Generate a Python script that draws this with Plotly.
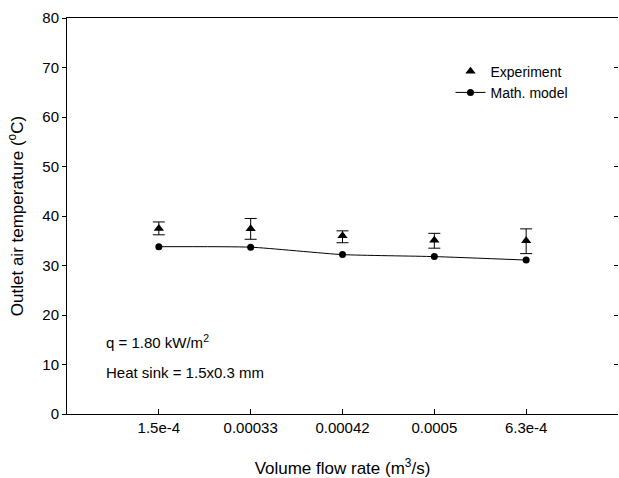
import plotly.graph_objects as go

categories = ["1.5e-4", "0.00033", "0.00042", "0.0005", "6.3e-4"]
exp_values = [37.5, 37.4, 36.0, 35.1, 35.0]
exp_err_plus = [1.3, 2.1, 1.0, 1.4, 2.4]
exp_err_minus = [1.3, 2.1, 1.4, 1.6, 2.6]
model_values = [33.8, 33.7, 32.2, 31.8, 31.1]
y_ticks = [0, 10, 20, 30, 40, 50, 60, 70, 80]

FONT = "Arial, Liberation Sans, sans-serif"

fig = go.Figure()
fig.add_trace(go.Scatter(
    x=categories, y=exp_values, mode="markers", name="Experiment",
    marker=dict(symbol="triangle-up", size=9, color="black"),
    error_y=dict(type="data", symmetric=False, array=exp_err_plus,
                 arrayminus=exp_err_minus, color="black", thickness=1, width=6),
))
fig.add_trace(go.Scatter(
    x=categories, y=model_values, mode="lines+markers", name="Math. model",
    line=dict(color="black", width=1, shape="spline", smoothing=0.5),
    marker=dict(symbol="circle", size=7, color="black"),
))
# invisible trace for right-side inner ticks
fig.add_trace(go.Scatter(x=categories, y=model_values, yaxis="y2",
                         mode="markers", marker=dict(opacity=0),
                         showlegend=False, hoverinfo="skip"))

fig.update_layout(
    width=619, height=478,
    margin=dict(l=67, r=1, t=18, b=64),
    paper_bgcolor="white", plot_bgcolor="white",
    font=dict(family=FONT, size=15, color="black"),
    xaxis=dict(type="category", categoryorder="array", categoryarray=categories,
               range=[-1, 5], showline=True, linecolor="black", linewidth=1,
               mirror=True, ticks="inside", ticklen=5, tickcolor="black",
               showgrid=False, zeroline=False, automargin=False,
               title=dict(text="Volume flow rate (m<sup>3</sup>/s)",
                          font=dict(size=17), standoff=27)),
    yaxis=dict(range=[0, 80], tickvals=y_ticks, showline=True, linecolor="black",
               linewidth=1, ticks="outside", ticklen=4, tickcolor="black",
               showgrid=False, zeroline=False, automargin=False,
               title=dict(text="Outlet air temperature (<sup>o</sup>C)",
                          font=dict(size=17), standoff=14)),
    yaxis2=dict(range=[0, 80], tickvals=y_ticks, overlaying="y", side="right",
                ticks="inside", ticklen=4, tickcolor="black", showticklabels=False,
                showgrid=False, zeroline=False, showline=False, automargin=False),
    legend=dict(x=0.696, y=0.905, xanchor="left", yanchor="top",
                bgcolor="rgba(0,0,0,0)", font=dict(size=14), tracegroupgap=0),
    showlegend=True,
    annotations=[
        dict(text="q = 1.80 kW/m<sup>2</sup>", xref="paper", yref="paper",
             x=0.068, y=0.182, xanchor="left", yanchor="middle",
             showarrow=False, font=dict(size=15)),
        dict(text="Heat sink = 1.5x0.3 mm", xref="paper", yref="paper",
             x=0.068, y=0.104, xanchor="left", yanchor="middle",
             showarrow=False, font=dict(size=15)),
    ],
)

fig.write_html("out.html", config={"displayModeBar": False},
               post_script="document.body.style.margin='0';document.body.style.overflow='hidden';")
